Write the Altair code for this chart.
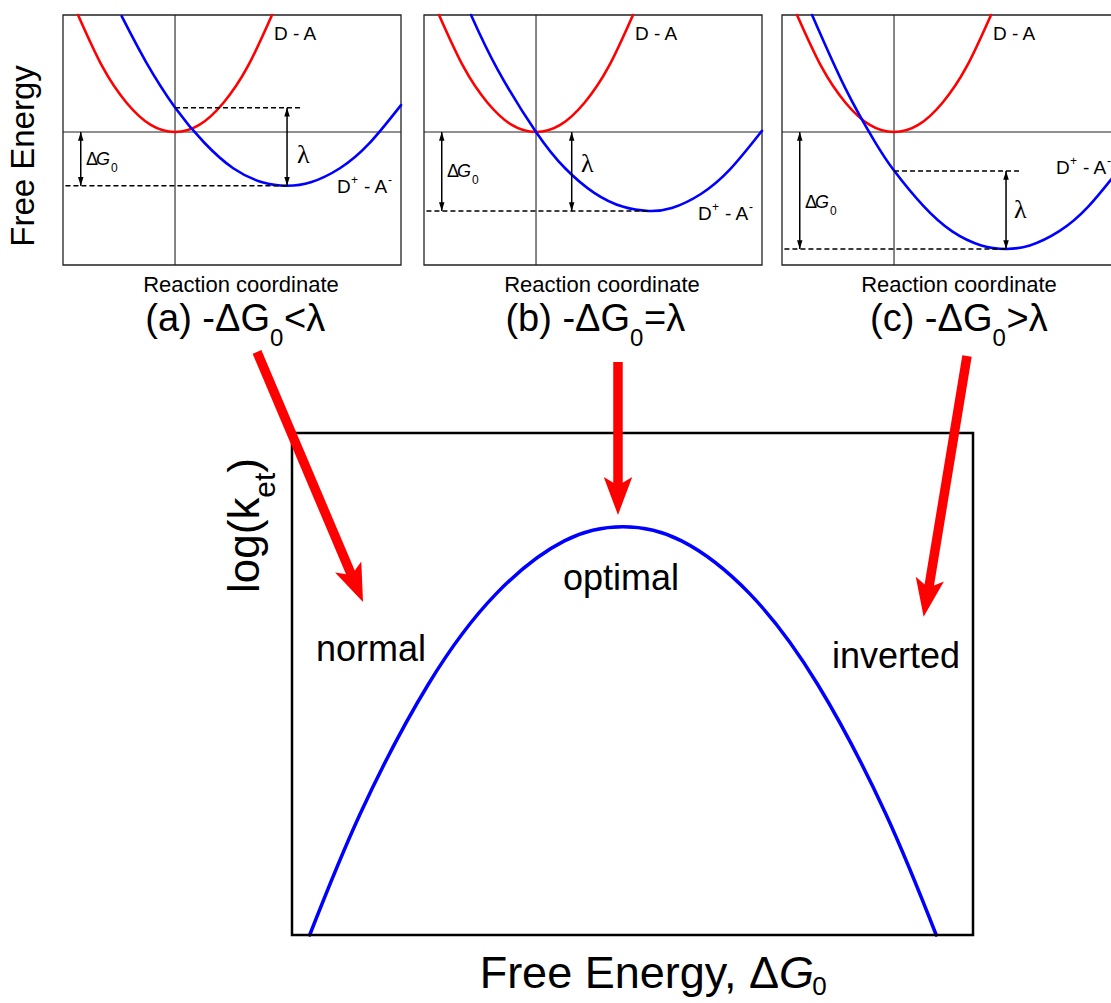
import altair as alt
import pandas as pd

SANS = "Liberation Sans, Arial, sans-serif"
SERIF = "Liberation Serif, Times New Roman, serif"
RED = "#ff0000"
BLUE = "#0000ff"
LINE = "#222222"

# ---------------- values ----------------
# Top panels: reaction coordinate q vs free energy G (q=0 / G=0 at the D - A minimum)
red_q = [-1.0, -0.75, -0.5, -0.25, 0.0, 0.25, 0.5, 0.75, 1.0]
red_G = [1.0, 0.56, 0.25, 0.06, 0.0, 0.06, 0.25, 0.56, 1.0]

blue_a_q = [-0.55, -0.3, 0.0, 0.3, 0.6, 0.9, 1.155, 1.4, 1.7, 2.0, 2.33]
blue_a_G = [0.99, 0.60, 0.21, -0.09, -0.31, -0.43, -0.46, -0.43, -0.31, -0.10, 0.23]
blue_b_q = [-0.67, -0.4, 0.0, 0.3, 0.6, 0.9, 1.16, 1.4, 1.7, 2.0, 2.33]
blue_b_G = [1.0, 0.54, 0.0, -0.31, -0.52, -0.64, -0.675, -0.65, -0.53, -0.32, 0.01]
blue_c_q = [-0.845, -0.5, -0.2, 0.0, 0.3, 0.6, 0.9, 1.155, 1.4, 1.7, 2.0, 2.33]
blue_c_G = [1.0, 0.37, -0.08, -0.33, -0.63, -0.85, -0.97, -1.0, -0.97, -0.85, -0.64, -0.31]

dG0_vals = [-0.46, -0.675, -1.0]      # D+ - A- minimum (ΔG0)
qmin_vals = [1.155, 1.16, 1.155]      # position of the D+ - A- minimum
lam_vals = [0.207, 0.0, -0.333]       # D+ - A- curve at q = 0 (top of λ arrow)

caption_main = ["(a) -ΔG", "(b) -ΔG", "(c) -ΔG"]
caption_rel = ["<λ", "=λ", ">λ"]

# Bottom panel: log(k_et) vs ΔG0
rate_dG = [0.26, 1.0, 2.0, 3.0, 4.0, 4.86, 5.72, 6.72, 7.72, 8.72, 9.46]
rate_logk = [0.0, 2.41, 4.99, 6.80, 7.85, 8.13, 7.85, 6.80, 4.99, 2.41, 0.0]

# red arrows (in bottom-panel units)
arrow_tail_x = [-0.514, 4.787, 9.912]
arrow_tail_y = [11.614, 11.414, 11.534]
arrow_neck_x = [0.904, 4.787, 9.338]
arrow_neck_y = [7.074, 8.845, 6.807]
arrow_tip_x = [1.043, 4.787, 9.275]
arrow_tip_y = [6.633, 8.367, 6.341]
arrow_angle = [157, 180, 189.4]

# ---------------- layout ----------------
QDOM = [-1.155, 2.33]
GDOM = [-1.137, 1.0]
TOP_Y_RANGE = [265, 15]
TOP_X_RANGE = [[63, 401], [424, 762], [782, 1120]]
BDOM = [0, 10]
BOT_X_RANGE = [292, 973]
BOT_Y_RANGE = [935, 433]

LAM_X = [1.155, 0.368, 1.155]
DG_X = -0.972
UPPER_DASH = [(0.0, 1.299), None, (0.0, 1.289)]
LAM_LBL = [(1.258, -0.265), (0.464, -0.342), (1.237, -0.735)]
DG_BASE = [-0.282, -0.385, -0.65]
DPA = [(1.67, -0.521), (1.67, -0.752), (1.67, -0.359)]
CAP_X = [(0.979, 1.124), (0.969, 1.113), (1.015, 1.16)]
RC_X = [0.68, 0.68, 0.67]

SMALL_HEAD = "M0,0L-1,3.2L1,3.2Z"
BIG_HEAD = "M0,0L-0.75,2L0,1.55L0.75,2Z"


def X(f, s):
    return alt.X(f"{f}:Q", scale=s, axis=None)


def Y(f, s):
    return alt.Y(f"{f}:Q", scale=s, axis=None)


def curve(q, g, xs, ys, color, width):
    df = pd.DataFrame({"x": q, "y": g})
    return alt.Chart(df).mark_line(color=color, strokeWidth=width, interpolate="natural",
                                   strokeCap="round").encode(x=X("x", xs), y=Y("y", ys))


def box(xd, yd, xs, ys, color, w):
    df = pd.DataFrame([{"x": xd[0], "x2": xd[1], "y": yd[0], "y2": yd[1]}])
    return alt.Chart(df).mark_rect(fillOpacity=0, stroke=color, strokeWidth=w).encode(
        x=X("x", xs), x2=alt.X2("x2"), y=Y("y", ys), y2=alt.Y2("y2"))


def rule_v(rows, xs, ys, **style):
    df = pd.DataFrame(rows)
    return alt.Chart(df).mark_rule(**style).encode(x=X("x", xs), y=Y("y", ys), y2=alt.Y2("y2"))


def rule_h(rows, xs, ys, **style):
    df = pd.DataFrame(rows)
    return alt.Chart(df).mark_rule(**style).encode(x=X("x", xs), x2=alt.X2("x2"), y=Y("y", ys))


def rule_xy(rows, xs, ys, **style):
    df = pd.DataFrame(rows)
    return alt.Chart(df).mark_rule(**style).encode(x=X("x", xs), x2=alt.X2("x2"),
                                                   y=Y("y", ys), y2=alt.Y2("y2"))


def points(rows, xs, ys, shape, size, color):
    df = pd.DataFrame(rows)
    return alt.Chart(df).mark_point(shape=shape, size=size, filled=True, color=color,
                                    opacity=1, strokeWidth=0).encode(
        x=X("x", xs), y=Y("y", ys), angle=alt.Angle("a:Q", scale=None))


def texts(items, xs, ys):
    out = []
    for it in items:
        text, x, y, size = it[0], it[1], it[2], it[3]
        o = it[4] if len(it) > 4 else {}
        kw = dict(fontSize=size, font=o.get("font", SANS), align=o.get("align", "left"),
                  baseline=o.get("baseline", "alphabetic"), color="black")
        if "style" in o:
            kw["fontStyle"] = o["style"]
        if "angle" in o:
            kw["angle"] = o["angle"]
        df = pd.DataFrame({"x": [x], "y": [y], "t": [text]})
        out.append(alt.Chart(df).mark_text(**kw).encode(x=X("x", xs), y=Y("y", ys), text="t:N"))
    return out


BLUE_Q = [blue_a_q, blue_b_q, blue_c_q]
BLUE_G = [blue_a_G, blue_b_G, blue_c_G]


def top_panel(i):
    xs = alt.Scale(domain=QDOM, range=TOP_X_RANGE[i], nice=False, zero=False)
    ys = alt.Scale(domain=GDOM, range=TOP_Y_RANGE, nice=False, zero=False)
    L = [box(QDOM, GDOM, xs, ys, LINE, 1.3),
         rule_v([{"x": 0.0, "y": GDOM[0], "y2": GDOM[1]}], xs, ys, color=LINE, strokeWidth=1.1),
         rule_h([{"x": QDOM[0], "x2": QDOM[1], "y": 0.0}], xs, ys, color=LINE, strokeWidth=1.1),
         curve(red_q, red_G, xs, ys, RED, 2.6),
         curve(BLUE_Q[i], BLUE_G[i], xs, ys, BLUE, 2.6)]
    dashes = [{"x": -1.13, "x2": qmin_vals[i], "y": dG0_vals[i]}]
    if UPPER_DASH[i]:
        dashes.append({"x": UPPER_DASH[i][0], "x2": UPPER_DASH[i][1], "y": lam_vals[i]})
    L.append(rule_h(dashes, xs, ys, color="black", strokeWidth=1.6, strokeDash=[5, 3]))
    arrows = [{"x": LAM_X[i], "y": dG0_vals[i], "y2": lam_vals[i]},
              {"x": DG_X, "y": dG0_vals[i], "y2": 0.0}]
    L.append(rule_v(arrows, xs, ys, color="black", strokeWidth=1.5))
    heads = []
    for a in arrows:
        heads.append({"x": a["x"], "y": a["y2"], "a": 0})
        heads.append({"x": a["x"], "y": a["y"], "a": 180})
    L.append(points(heads, xs, ys, SMALL_HEAD, 30, "black"))

    dq, db = DPA[i]
    items = [
        ("D - A", 1.02, 0.786, 19),
        ("D", dq, db, 19),
        ("+", dq + 0.144, db + 0.077, 12),
        ("- A", dq + 0.278, db, 19),
        ("-", dq + 0.526, db + 0.077, 12),
        ("λ", LAM_LBL[i][0], LAM_LBL[i][1], 26, {"font": SERIF}),
        ("Δ", -0.918, DG_BASE[i], 18),
        ("G", -0.814, DG_BASE[i], 18, {"style": "italic"}),
        ("0", -0.660, DG_BASE[i] - 0.06, 12),
        ("Reaction coordinate", RC_X[i], -1.368, 22, {"align": "center"}),
        (caption_main[i], CAP_X[i][0], -1.70, 38, {"align": "right"}),
        ("0", CAP_X[i][0], -1.829, 24),
        (caption_rel[i], CAP_X[i][1], -1.70, 38),
    ]
    if i == 0:
        items.append(("Free Energy", -1.557, -0.205, 33,
                      {"align": "center", "baseline": "middle", "angle": 270}))
    L += texts(items, xs, ys)
    return alt.layer(*L)


def bottom_panel():
    xs = alt.Scale(domain=BDOM, range=BOT_X_RANGE, nice=False, zero=False)
    ys = alt.Scale(domain=BDOM, range=BOT_Y_RANGE, nice=False, zero=False)
    L = [curve(rate_dG, rate_logk, xs, ys, BLUE, 3.5),
         box(BDOM, BDOM, xs, ys, "black", 2.5)]
    items = [
        ("normal", 0.352, 5.458, 36),
        ("optimal", 3.979, 6.873, 36),
        ("inverted", 7.930, 5.319, 36),
        ("log(k", -0.49, 6.813, 44, {"angle": 270}),
        ("et", -0.25, 8.71, 30, {"angle": 270}),
        (")", -0.49, 9.21, 44, {"angle": 270}),
        ("Free Energy, Δ", 7.151, -1.056, 45, {"align": "right"}),
        ("G", 7.151, -1.056, 45, {"style": "italic"}),
        ("0", 7.64, -1.195, 26),
    ]
    L += texts(items, xs, ys)
    shafts = [{"x": arrow_tail_x[k], "y": arrow_tail_y[k],
               "x2": arrow_neck_x[k], "y2": arrow_neck_y[k]} for k in range(3)]
    L.append(rule_xy(shafts, xs, ys, color=RED, strokeWidth=9.5, strokeCap="butt"))
    heads = [{"x": arrow_tip_x[k], "y": arrow_tip_y[k], "a": arrow_angle[k]} for k in range(3)]
    L.append(points(heads, xs, ys, BIG_HEAD, 1444, RED))
    return alt.layer(*L)


chart = alt.layer(top_panel(0), top_panel(1), top_panel(2), bottom_panel()).resolve_scale(
    x="independent", y="independent"
).properties(
    width=1111, height=1003, padding=0,
    autosize=alt.AutoSizeParams(type="none"), background="white"
).configure_view(strokeWidth=0)

chart.save("out.html", embed_options={"renderer": "svg", "actions": False})
